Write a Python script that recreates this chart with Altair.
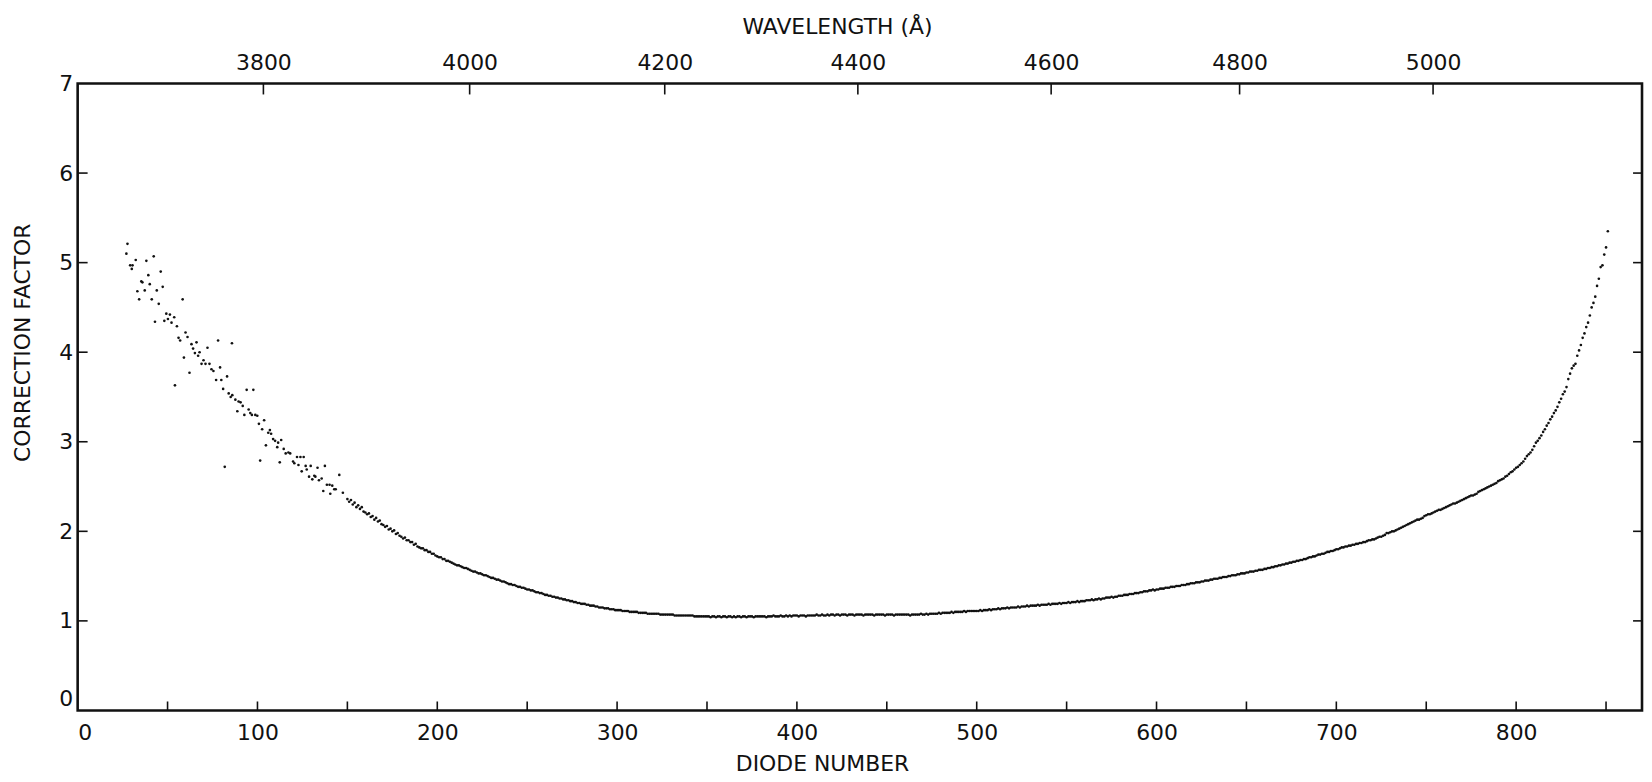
import altair as alt
import pandas as pd

# ---- data ----
# noisy blue end (individual points read one by one)
diode_left = [27.1, 27.7, 29.2, 30.1, 30.5, 32.3, 33.2, 34.2, 35.4, 36.0, 37.3, 38.2, 39.3, 40.1, 41.2, 42.3,
              43.0, 44.0, 45.1, 46.2, 47.3, 48.2, 49.3, 50.2, 51.3, 52.2, 53.7, 54.1, 55.2, 56.1, 57.0, 58.4,
              59.1, 60.0, 61.1, 62.2, 63.3, 64.2, 65.2, 66.1, 67.0, 67.8, 68.9, 70.0, 71.1, 72.2, 73.3, 74.4,
              75.5, 77.0, 78.1, 79.2, 79.9, 80.9, 81.8, 83.1, 84.0, 85.1, 85.8, 86.0, 87.7, 88.8, 89.5, 90.6,
              91.8, 92.7, 94.0, 95.1, 96.0, 96.9, 97.7, 98.8, 99.9, 100.8, 101.5, 102.6, 103.7, 104.7, 106.0,
              106.9, 107.6, 108.7, 109.8, 111.0, 111.5, 112.4, 113.2, 114.6, 115.7, 117.2, 118.2, 119.8, 120.5,
              122.0, 122.8, 123.9, 124.6, 125.7, 126.8, 127.4, 128.7, 129.6, 130.5, 131.6, 132.2, 133.4, 134.2,
              135.7, 136.6, 137.5, 138.6, 140.1, 140.5, 141.6, 142.7, 143.5, 145.5, 147.5]
factor_left = [5.10, 5.21, 4.97, 4.93, 4.97, 5.03, 4.68, 4.59, 4.79, 4.78, 4.69, 5.02, 4.86, 4.76, 4.59, 5.07,
               4.34, 4.69, 4.54, 4.90, 4.73, 4.35, 4.43, 4.37, 4.42, 4.33, 4.39, 3.63, 4.29, 4.16, 4.13, 4.59,
               3.94, 4.22, 4.17, 3.77, 4.09, 4.04, 3.99, 4.11, 3.96, 4.00, 3.87, 3.91, 3.87, 4.05, 3.87, 3.81,
               3.79, 3.69, 4.13, 3.83, 3.69, 3.59, 2.72, 3.73, 3.54, 3.50, 4.10, 3.52, 3.47, 3.34, 3.45, 3.44,
               3.40, 3.30, 3.58, 3.36, 3.32, 3.30, 3.58, 3.30, 3.29, 3.20, 2.79, 3.14, 3.24, 2.96, 3.10,
               3.13, 3.09, 3.03, 3.01, 2.94, 2.99, 2.77, 3.02, 2.92, 2.87, 2.88, 2.87, 2.78, 2.76,
               2.83, 2.74, 2.83, 2.67, 2.83, 2.73, 2.69, 2.61, 2.73, 2.58, 2.62, 2.61, 2.71, 2.57,
               2.59, 2.45, 2.73, 2.52, 2.52, 2.42, 2.51, 2.47, 2.47, 2.63, 2.43]

# one value per diode, starting at diode 150 (rows of ten diodes)
factor_main = [
    2.36, 2.33, 2.35, 2.30, 2.32, 2.27, 2.29, 2.25, 2.27, 2.22,  # 150
    2.21, 2.19, 2.20, 2.16, 2.17, 2.13, 2.15, 2.11, 2.12, 2.08,  # 160
    2.07, 2.05, 2.06, 2.02, 2.03, 2.00, 2.01, 1.97, 1.98, 1.95,  # 170
    1.94, 1.92, 1.93, 1.90, 1.90, 1.88, 1.88, 1.85, 1.86, 1.83,  # 180
    1.82, 1.81, 1.81, 1.79, 1.79, 1.77, 1.77, 1.75, 1.75, 1.73,  # 190
    1.72, 1.71, 1.71, 1.69, 1.69, 1.67, 1.67, 1.66, 1.65, 1.64,  # 200
    1.63, 1.62, 1.62, 1.61, 1.60, 1.59, 1.59, 1.58, 1.57, 1.56,  # 210
    1.55, 1.55, 1.54, 1.53, 1.53, 1.52, 1.51, 1.51, 1.50, 1.49,  # 220
    1.48, 1.48, 1.47, 1.46, 1.46, 1.45, 1.44, 1.44, 1.43, 1.42,  # 230
    1.41, 1.41, 1.40, 1.40, 1.39, 1.38, 1.38, 1.37, 1.37, 1.36,  # 240
    1.35, 1.35, 1.34, 1.34, 1.33, 1.32, 1.32, 1.31, 1.31, 1.30,  # 250
    1.29, 1.29, 1.28, 1.28, 1.27, 1.27, 1.26, 1.26, 1.25, 1.25,  # 260
    1.24, 1.24, 1.23, 1.23, 1.22, 1.22, 1.21, 1.21, 1.20, 1.20,  # 270
    1.19, 1.19, 1.19, 1.18, 1.18, 1.17, 1.17, 1.17, 1.16, 1.16,  # 280
    1.15, 1.15, 1.15, 1.14, 1.14, 1.14, 1.13, 1.13, 1.13, 1.12,  # 290
    1.12, 1.12, 1.12, 1.11, 1.11, 1.11, 1.11, 1.10, 1.10, 1.10,  # 300
    1.10, 1.10, 1.09, 1.09, 1.09, 1.09, 1.09, 1.08, 1.08, 1.08,  # 310
    1.08, 1.08, 1.08, 1.08, 1.07, 1.07, 1.07, 1.07, 1.07, 1.07,  # 320
    1.07, 1.07, 1.06, 1.06, 1.06, 1.06, 1.06, 1.06, 1.06, 1.06,  # 330
    1.06, 1.06, 1.06, 1.05, 1.05, 1.05, 1.05, 1.05, 1.05, 1.05,  # 340
    1.05, 1.05, 1.04, 1.05, 1.05, 1.04, 1.05, 1.05, 1.04, 1.05,  # 350
    1.05, 1.04, 1.05, 1.05, 1.04, 1.05, 1.04, 1.05, 1.05, 1.04,  # 360
    1.05, 1.05, 1.04, 1.05, 1.05, 1.05, 1.04, 1.05, 1.05, 1.05,  # 370
    1.05, 1.05, 1.05, 1.04, 1.05, 1.05, 1.05, 1.06, 1.05, 1.05,  # 380
    1.05, 1.06, 1.05, 1.05, 1.06, 1.05, 1.06, 1.05, 1.06, 1.06,  # 390
    1.06, 1.05, 1.06, 1.06, 1.06, 1.05, 1.06, 1.06, 1.06, 1.06,  # 400
    1.06, 1.07, 1.06, 1.06, 1.07, 1.06, 1.06, 1.07, 1.06, 1.07,  # 410
    1.07, 1.06, 1.07, 1.07, 1.06, 1.07, 1.07, 1.07, 1.06, 1.07,  # 420
    1.07, 1.07, 1.06, 1.07, 1.07, 1.07, 1.07, 1.06, 1.07, 1.07,  # 430
    1.07, 1.07, 1.07, 1.06, 1.07, 1.07, 1.07, 1.07, 1.07, 1.06,  # 440
    1.07, 1.07, 1.07, 1.07, 1.06, 1.07, 1.07, 1.07, 1.07, 1.07,  # 450
    1.07, 1.07, 1.07, 1.06, 1.07, 1.07, 1.07, 1.07, 1.07, 1.08,  # 460
    1.07, 1.07, 1.08, 1.07, 1.08, 1.08, 1.08, 1.08, 1.08, 1.09,  # 470
    1.08, 1.09, 1.09, 1.09, 1.09, 1.09, 1.10, 1.09, 1.10, 1.10,  # 480
    1.10, 1.10, 1.10, 1.11, 1.10, 1.11, 1.11, 1.11, 1.11, 1.11,  # 490
    1.11, 1.11, 1.12, 1.11, 1.12, 1.12, 1.12, 1.13, 1.12, 1.13,  # 500
    1.13, 1.13, 1.14, 1.13, 1.14, 1.14, 1.14, 1.15, 1.14, 1.15,  # 510
    1.15, 1.15, 1.15, 1.16, 1.15, 1.16, 1.16, 1.16, 1.17, 1.16,  # 520
    1.17, 1.17, 1.17, 1.17, 1.18, 1.17, 1.18, 1.18, 1.18, 1.18,  # 530
    1.19, 1.18, 1.19, 1.19, 1.19, 1.19, 1.20, 1.19, 1.20, 1.20,  # 540
    1.20, 1.21, 1.20, 1.21, 1.21, 1.21, 1.22, 1.21, 1.22, 1.22,  # 550
    1.22, 1.23, 1.23, 1.23, 1.24, 1.23, 1.24, 1.24, 1.25, 1.24,  # 560
    1.25, 1.25, 1.26, 1.26, 1.26, 1.27, 1.26, 1.27, 1.27, 1.28,  # 570
    1.28, 1.28, 1.29, 1.29, 1.29, 1.30, 1.30, 1.30, 1.31, 1.31,  # 580
    1.31, 1.32, 1.32, 1.33, 1.33, 1.33, 1.34, 1.34, 1.35, 1.34,  # 590
    1.35, 1.35, 1.36, 1.36, 1.36, 1.37, 1.37, 1.37, 1.38, 1.38,  # 600
    1.38, 1.39, 1.39, 1.39, 1.40, 1.40, 1.40, 1.41, 1.41, 1.42,  # 610
    1.42, 1.42, 1.43, 1.43, 1.43, 1.44, 1.44, 1.45, 1.45, 1.45,  # 620
    1.46, 1.46, 1.47, 1.47, 1.47, 1.48, 1.48, 1.49, 1.49, 1.49,  # 630
    1.50, 1.50, 1.51, 1.51, 1.51, 1.52, 1.52, 1.53, 1.53, 1.53,  # 640
    1.54, 1.54, 1.55, 1.55, 1.55, 1.56, 1.56, 1.57, 1.57, 1.57,  # 650
    1.58, 1.58, 1.59, 1.59, 1.60, 1.60, 1.61, 1.61, 1.62, 1.62,  # 660
    1.63, 1.63, 1.64, 1.64, 1.65, 1.65, 1.66, 1.66, 1.67, 1.67,  # 670
    1.68, 1.68, 1.69, 1.69, 1.70, 1.71, 1.71, 1.72, 1.72, 1.73,  # 680
    1.74, 1.74, 1.75, 1.75, 1.76, 1.77, 1.77, 1.78, 1.78, 1.79,  # 690
    1.80, 1.80, 1.81, 1.82, 1.82, 1.83, 1.83, 1.84, 1.84, 1.85,  # 700
    1.85, 1.86, 1.86, 1.87, 1.87, 1.88, 1.88, 1.89, 1.90, 1.90,  # 710
    1.91, 1.91, 1.92, 1.93, 1.94, 1.94, 1.95, 1.96, 1.98, 1.98,  # 720
    1.99, 2.00, 2.00, 2.01, 2.02, 2.03, 2.04, 2.05, 2.06, 2.07,  # 730
    2.08, 2.09, 2.10, 2.11, 2.12, 2.13, 2.13, 2.14, 2.15, 2.17,  # 740
    2.18, 2.19, 2.19, 2.20, 2.21, 2.22, 2.23, 2.24, 2.24, 2.25,  # 750
    2.26, 2.27, 2.28, 2.29, 2.30, 2.31, 2.31, 2.32, 2.33, 2.34,  # 760
    2.35, 2.36, 2.37, 2.38, 2.39, 2.40, 2.40, 2.41, 2.42, 2.44,  # 770
    2.45, 2.46, 2.47, 2.48, 2.49, 2.50, 2.51, 2.52, 2.53, 2.54,  # 780
    2.56, 2.57, 2.58, 2.59, 2.61, 2.62, 2.64, 2.66, 2.67, 2.69,  # 790
    2.71, 2.72, 2.74, 2.76, 2.78, 2.81, 2.84, 2.86, 2.88, 2.91,  # 800
    2.95, 2.99, 3.01, 3.04, 3.07, 3.11, 3.14, 3.18, 3.21, 3.25,  # 810
    3.28, 3.32, 3.35, 3.39, 3.44, 3.48, 3.53, 3.56, 3.61, 3.70,  # 820
    3.76, 3.82, 3.85, 3.87, 3.96, 4.02, 4.08, 4.16, 4.21, 4.28,  # 830
    4.33, 4.41, 4.50, 4.55, 4.62, 4.74, 4.82, 4.95, 4.97, 5.09,  # 840
    5.17, 5.35,                                                  # 850
]
FIRST_MAIN_DIODE = 150

diode_ticks = [0, 100, 200, 300, 400, 500, 600, 700, 800]
diode_minor_ticks = [50, 100, 150, 200, 250, 300, 350, 400, 450, 500, 550, 600, 650, 700, 750, 800, 850]
factor_ticks = [0, 1, 2, 3, 4, 5, 6, 7]
wavelength_labels = ["3800", "4000", "4200", "4400", "4600", "4800", "5000"]
wavelength_diode_pos = [103.3, 218.0, 326.5, 433.9, 541.4, 646.2, 753.8]

# ---- chart ----
W, H = 1572, 630
FONT = "DejaVu Sans"
INK = "#111111"
xs = alt.Scale(domain=[0, 870], nice=False, zero=False)
ys = alt.Scale(domain=[0, 7], nice=False, zero=False)

diode_main = list(range(FIRST_MAIN_DIODE, FIRST_MAIN_DIODE + len(factor_main)))
pts = pd.DataFrame({
    "diode": diode_left + diode_main,
    "factor": factor_left + factor_main,
})

base_text = dict(labelFontSize=22, labelFont=FONT, labelColor=INK,
                 titleFontSize=22, titleFont=FONT, titleColor=INK, titleFontWeight="normal",
                 ticks=False, tickSize=0, domain=False, grid=False)

points = alt.Chart(pts).mark_circle(size=7, color=INK, opacity=1).encode(
    x=alt.X("diode:Q", scale=xs, title="DIODE NUMBER",
            axis=alt.Axis(values=diode_ticks, labelPadding=12, titleX=748, titleY=53,
                          titleBaseline="middle", titleAnchor="middle", **base_text)),
    y=alt.Y("factor:Q", scale=ys, title="CORRECTION FACTOR",
            axis=alt.Axis(values=factor_ticks, labelPadding=5,
                          labelBaseline={"condition": {"test": "datum.value === 0", "value": "bottom"},
                                         "value": "middle"},
                          titleAngle=270, titleX=-55, titleY=260,
                          titleBaseline="middle", titleAlign="center", **base_text)),
)

bt = pd.DataFrame({"diode": diode_minor_ticks})
bottom_ticks = alt.Chart(bt).mark_rule(color=INK, strokeWidth=1.6).encode(
    x=alt.X("diode:Q", scale=xs, axis=None), y=alt.value(H), y2=alt.value(H - 9))

tt = pd.DataFrame({"diode": wavelength_diode_pos, "label": wavelength_labels})
label_expr = "[" + ",".join("'%s'" % s for s in wavelength_labels) + "][indexof([" + \
    ",".join(str(v) for v in wavelength_diode_pos) + "], datum.value)]"
top_ticks = alt.Chart(tt).mark_rule(color=INK, strokeWidth=1.6).encode(
    x=alt.X("diode:Q", scale=xs, title="WAVELENGTH (Å)",
            axis=alt.Axis(orient="top", values=wavelength_diode_pos, labelExpr=label_expr,
                          labelPadding=9, titleX=763, titleY=-57, titleBaseline="middle",
                          titleAnchor="middle", **base_text)),
    y=alt.value(0), y2=alt.value(11))

yt = pd.DataFrame({"factor": factor_ticks[1:-1]})
left_ticks = alt.Chart(yt).mark_rule(color=INK, strokeWidth=1.6).encode(
    y=alt.Y("factor:Q", scale=ys, axis=None), x=alt.value(0), x2=alt.value(10))
right_ticks = alt.Chart(yt).mark_rule(color=INK, strokeWidth=1.6).encode(
    y=alt.Y("factor:Q", scale=ys, axis=None), x=alt.value(W), x2=alt.value(W - 9))

chart = alt.layer(points, bottom_ticks, top_ticks, left_ticks, right_ticks).resolve_axis(
    x="independent", y="independent"
).properties(
    width=W, height=H,
    autosize=alt.AutoSizeParams(type="none"),
    padding={"left": 70, "top": 74, "right": 2, "bottom": 64},
    background="white",
).configure_view(stroke=INK, strokeWidth=2.6)

chart.save("out.html", embed_options={"renderer": "svg", "actions": False})
